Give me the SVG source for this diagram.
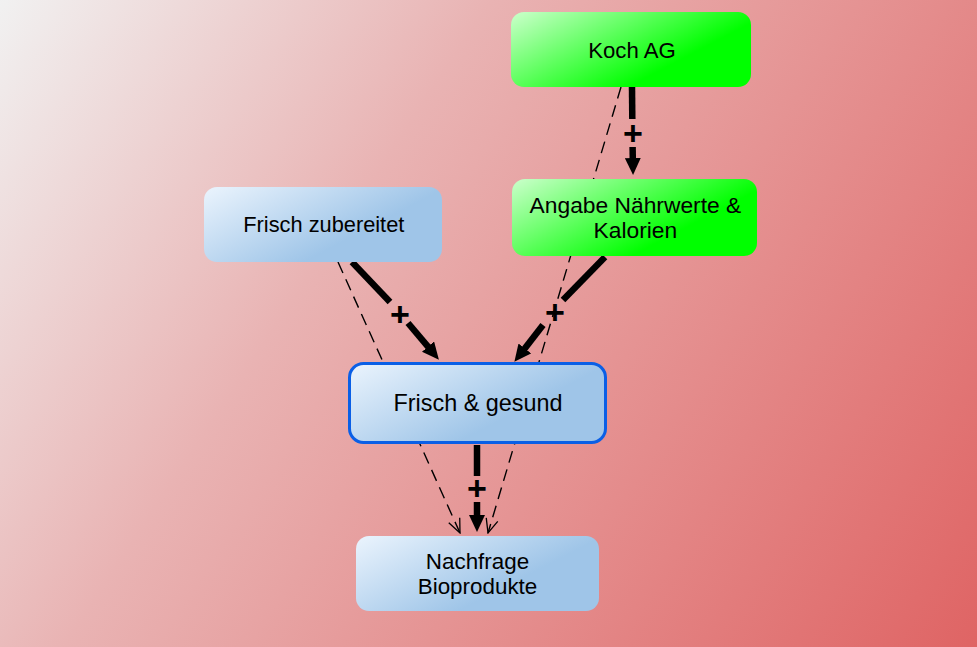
<svg xmlns="http://www.w3.org/2000/svg" width="977" height="647" viewBox="0 0 977 647">
<defs>
<linearGradient id="bg" gradientUnits="userSpaceOnUse" x1="0" y1="0" x2="977" y2="647">
<stop offset="0" stop-color="#f1f1f1"/>
<stop offset="0.35" stop-color="#e9b3b3"/>
<stop offset="1" stop-color="#df6464"/>
</linearGradient>
<linearGradient id="green" x1="0" y1="0" x2="1" y2="0.6">
<stop offset="0" stop-color="#ccffcc"/>
<stop offset="0.8" stop-color="#00ff00"/>
<stop offset="1" stop-color="#00ff00"/>
</linearGradient>
<linearGradient id="blue" x1="0" y1="0" x2="1" y2="0.6">
<stop offset="0" stop-color="#ebf4fd"/>
<stop offset="0.75" stop-color="#9fc5e8"/>
<stop offset="1" stop-color="#9fc5e8"/>
</linearGradient>
<marker id="head" markerUnits="userSpaceOnUse" markerWidth="18" markerHeight="16" refX="1" refY="8" orient="auto">
<path d="M0,0 L17,8 L0,16 z" fill="#000"/>
</marker>
<marker id="open" markerUnits="userSpaceOnUse" markerWidth="16" markerHeight="14" refX="15" refY="7" orient="auto">
<path d="M1,1 L15,7 L1,13" fill="none" stroke="#000" stroke-width="1.3" stroke-dasharray="none"/>
</marker>
</defs>
<style>
.txt{font-family:"Liberation Sans",Arial,sans-serif;font-size:22.4px;fill:#000;text-anchor:middle}
.plus{font-family:"Liberation Sans",Arial,sans-serif;font-size:34px;font-weight:bold;fill:#000;text-anchor:middle}
.thick{stroke:#000;stroke-width:6.5;fill:none}
.dash{stroke:#000;stroke-width:1.4;fill:none;stroke-dasharray:12 7}
</style>
<rect x="0" y="0" width="977" height="647" fill="url(#bg)"/>
<g id="connectors">
<line class="dash" x1="621" y1="87" x2="488" y2="533" marker-end="url(#open)"/>
<line class="dash" x1="338" y1="262" x2="460" y2="533" marker-end="url(#open)"/>
<line class="thick" x1="632" y1="87" x2="632.3" y2="119"/>
<line class="thick" x1="632.6" y1="147" x2="632.8" y2="159" marker-end="url(#head)"/>
<text class="plus" x="633" y="145">+</text>
<line class="thick" x1="352" y1="262" x2="390" y2="302"/>
<line class="thick" x1="408" y1="323" x2="428.6" y2="347.4" marker-end="url(#head)"/>
<text class="plus" x="400" y="326">+</text>
<line class="thick" x1="605" y1="257" x2="563" y2="300"/>
<line class="thick" x1="543" y1="325" x2="524.2" y2="349.2" marker-end="url(#head)"/>
<text class="plus" x="555" y="324">+</text>
<line class="thick" x1="477" y1="445" x2="477" y2="476"/>
<line class="thick" x1="477" y1="502" x2="477" y2="516" marker-end="url(#head)"/>
<text class="plus" x="477" y="500">+</text>
</g>
<g id="node-koch">
<rect x="511" y="12" width="240" height="75" rx="13" fill="url(#green)"/>
<text class="txt" x="632" y="58" style="font-size:22.2px">Koch AG</text>
</g>
<g id="node-angabe">
<rect x="512" y="179" width="245" height="77" rx="13" fill="url(#green)"/>
<text class="txt" x="635.4" y="212.5" style="font-size:22.8px">Angabe Nährwerte &amp;</text>
<text class="txt" x="635.4" y="237.5" style="font-size:22.8px">Kalorien</text>
</g>
<g id="node-zubereitet">
<rect x="204" y="187" width="238" height="75" rx="13" fill="url(#blue)"/>
<text class="txt" x="323.8" y="231.7" style="font-size:21.8px">Frisch zubereitet</text>
</g>
<g id="node-gesund">
<rect x="349.5" y="363.5" width="256" height="79" rx="14" fill="url(#blue)" stroke="#0a5fe6" stroke-width="3"/>
<text class="txt" x="478" y="411" style="font-size:23.4px">Frisch &amp; gesund</text>
</g>
<g id="node-nachfrage">
<rect x="356" y="536" width="243" height="75" rx="13" fill="url(#blue)"/>
<text class="txt" x="477.5" y="569">Nachfrage</text>
<text class="txt" x="477.5" y="594">Bioprodukte</text>
</g>
</svg>
